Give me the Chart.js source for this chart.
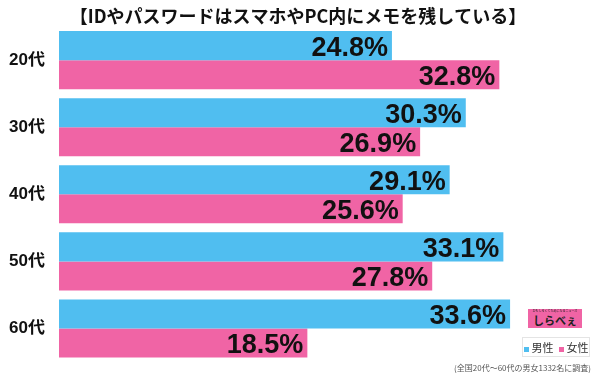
<!DOCTYPE html>
<html>
<head>
<meta charset="utf-8">
<script src="https://cdn.jsdelivr.net/npm/chart.js@4"></script>
<style>
  body { margin: 0; background: #fff; }
  .wrap { position: relative; width: 600px; height: 375px; }
  canvas { display: block; }
  .legend {
    position: absolute; left: 522px; top: 337px; width: 68px; height: 20px;
    border: 1px solid #e4e4e4; font: 11px "Noto Sans CJK JP", sans-serif; color: #333;
    display: flex; align-items: center; justify-content: center; gap: 5px;
    box-sizing: border-box; white-space: nowrap;
  }
  .legend span::before {
    content: ''; display: inline-block; width: 5px; height: 5px; margin-right: 3px;
    vertical-align: middle; background: var(--c);
  }
  .logo {
    position: absolute; left: 528px; top: 309px; width: 54px; height: 19px;
    background: #f064a5; color: #222; font: bold 11px "Noto Sans CJK JP", sans-serif;
    text-align: center; line-height: 22px;
  }
  .logo small {
    position: absolute; left: 0; right: 0; top: 1px; font-size: 3px; line-height: 3px; font-weight: normal;
  }
  .note {
    position: absolute; right: 9px; top: 362px; font: 8px "Noto Sans CJK JP", sans-serif; color: #555;
  }
</style>
</head>
<body>
<div class="wrap">
  <canvas id="chart" width="600" height="375"></canvas>
  <div class="logo"><small>おもしろくてためになるニュース</small>しらべぇ</div>
  <div class="legend"><span style="--c:#50bef0">男性</span><span style="--c:#f064a5">女性</span></div>
  <div class="note">(全国20代～60代の男女1332名に調査)</div>
</div>
<script>
const categories = ['20代', '30代', '40代', '50代', '60代'];
const maleValues = [24.8, 30.3, 29.1, 33.1, 33.6];
const femaleValues = [32.8, 26.9, 25.6, 27.8, 18.5];

// draws the big % numbers inside the bar ends
const valueLabels = {
  id: 'valueLabels',
  afterDatasetsDraw(chart) {
    const ctx = chart.ctx;
    ctx.save();
    ctx.font = 'bold 27px "Liberation Sans", Arial, sans-serif';
    ctx.fillStyle = '#111';
    ctx.textAlign = 'right';
    ctx.textBaseline = 'alphabetic';
    chart.data.datasets.forEach((ds, i) => {
      chart.getDatasetMeta(i).data.forEach((bar, j) => {
        ctx.fillText(ds.data[j].toFixed(1) + '%', bar.x - 4, bar.y + 10);
      });
    });
    ctx.restore();
  }
};

new Chart(document.getElementById('chart'), {
  type: 'bar',
  data: {
    labels: categories,
    datasets: [
      { label: '男性', data: maleValues, backgroundColor: '#50bef0' },
      { label: '女性', data: femaleValues, backgroundColor: '#f064a5' }
    ]
  },
  options: {
    indexAxis: 'y',
    responsive: false,
    animation: false,
    layout: { padding: { top: 0, right: 4, bottom: 13, left: 0 } },
    datasets: { bar: { categoryPercentage: 0.866, barPercentage: 1 } },
    scales: {
      x: { display: false, min: 0, max: 40 },
      y: {
        grid: { display: false, drawTicks: false },
        border: { display: false },
        ticks: {
          padding: 14,
          color: '#111',
          font: { family: '"Liberation Sans", "Noto Sans CJK JP", sans-serif', size: 17, weight: 'bold' }
        },
        afterFit(scale) {
          scale.width = 59;
          scale.paddingTop = 0;
          scale.paddingBottom = 0;
        }
      }
    },
    plugins: {
      legend: { display: false },
      tooltip: { enabled: false },
      title: {
        display: true,
        text: '【IDやパスワードはスマホやPC内にメモを残している】',
        color: '#111',
        font: { family: '"Noto Sans CJK JP", sans-serif', size: 18, weight: 'bold', lineHeight: 1.2 },
        padding: { top: 5, bottom: 0 }
      }
    }
  },
  plugins: [valueLabels]
});
</script>
</body>
</html>
